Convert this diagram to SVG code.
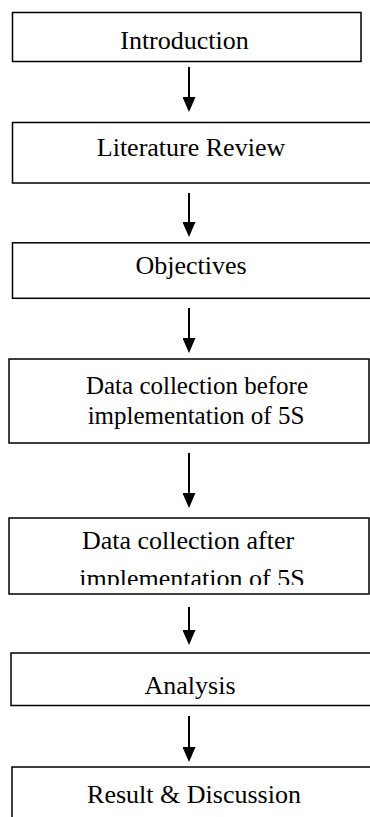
<svg xmlns="http://www.w3.org/2000/svg" width="370" height="817" viewBox="0 0 370 817">
  <style>
    .box { fill: #ffffff; stroke: #000000; stroke-width: 1.5; }
    .lbl { font-family: "Liberation Serif", "Times New Roman", serif; font-size: 26px; fill: #000000; text-anchor: middle; }
    .sm { font-size: 25px; }
    .link { stroke: #000000; stroke-width: 2; fill: none; marker-end: url(#head); }
  </style>
  <defs>
    <marker id="head" viewBox="0 0 15 13" refX="10" refY="6.5" markerWidth="15" markerHeight="13" markerUnits="userSpaceOnUse" orient="auto">
      <path d="M0,0 L15,6.5 L0,13 Z" fill="#000000"/>
    </marker>
    <clipPath id="clip-after">
      <rect x="0" y="518" width="370" height="67"/>
    </clipPath>
  </defs>
  <rect width="370" height="817" fill="#ffffff"/>

  <g id="connectors">
    <line class="link" x1="189" y1="67" x2="189" y2="107"/>
    <line class="link" x1="189" y1="193" x2="189" y2="232"/>
    <line class="link" x1="189" y1="308" x2="189" y2="348"/>
    <line class="link" x1="189" y1="453" x2="189" y2="503"/>
    <line class="link" x1="189" y1="607" x2="189" y2="640"/>
    <line class="link" x1="189" y1="716" x2="189" y2="757"/>
  </g>

  <g id="introduction">
    <rect class="box" x="12.5" y="12.5" width="348.5" height="49"/>
    <text class="lbl" x="184.5" y="49">Introduction</text>
  </g>

  <g id="literature-review">
    <rect class="box" x="12.5" y="122.5" width="370" height="60.5"/>
    <text class="lbl" x="191" y="156">Literature Review</text>
  </g>

  <g id="objectives">
    <rect class="box" x="12.5" y="242.8" width="370" height="55.5"/>
    <text class="lbl" x="191" y="274">Objectives</text>
  </g>

  <g id="data-before">
    <rect class="box" x="9" y="359" width="360" height="84"/>
    <text class="lbl sm" x="197" y="394">Data collection before</text>
    <text class="lbl sm" x="196" y="424">implementation of 5S</text>
  </g>

  <g id="data-after">
    <rect class="box" x="9" y="518" width="360" height="76"/>
    <g clip-path="url(#clip-after)">
      <text class="lbl" x="188" y="549">Data collection after</text>
      <text class="lbl" x="192" y="587">implementation of 5S</text>
    </g>
  </g>

  <g id="analysis">
    <rect class="box" x="11" y="653" width="370" height="52.5"/>
    <text class="lbl" x="190" y="694">Analysis</text>
  </g>

  <g id="result-discussion">
    <rect class="box" x="12" y="767" width="370" height="70"/>
    <text class="lbl" x="194" y="803">Result &amp; Discussion</text>
  </g>
</svg>
